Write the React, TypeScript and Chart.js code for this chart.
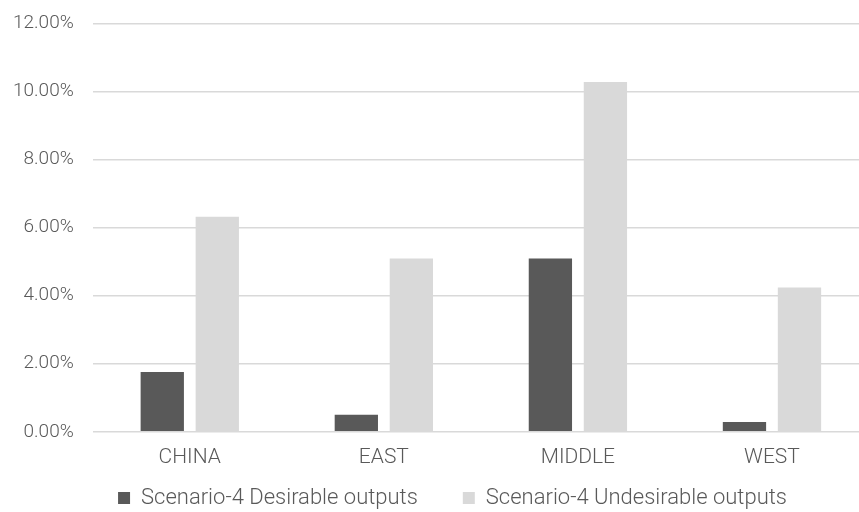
import React, { useEffect, useRef } from "react";
import { Chart, registerables } from "chart.js";

Chart.register(...registerables);

const categories = ["CHINA", "EAST", "MIDDLE", "WEST"];
const desirable = [1.76, 0.5, 5.09, 0.29];
const undesirable = [6.32, 5.09, 10.28, 4.24];
const seriesNames = ["Scenario-4 Desirable outputs", "Scenario-4 Undesirable outputs"];
const yTicks = [0, 2, 4, 6, 8, 10, 12];

const legendPad = 45;
const legendShift = { x: 21, y: -(legendPad - 12) };

const legendOffset = {
  id: "legendOffset",
  afterLayout(chart: any) {
    const lg = chart.legend;
    if (!lg) return;
    lg.left += legendShift.x;
    lg.right += legendShift.x;
    lg.top += legendShift.y;
    lg.bottom += legendShift.y;
  },
};

export default function App() {
  const ref = useRef<HTMLCanvasElement>(null);
  useEffect(() => {
    if (!ref.current) return;
    const font = "Roboto, sans-serif";
    const chart = new Chart(ref.current, {
      type: "bar",
      data: {
        labels: categories,
        datasets: [
          { label: seriesNames[0], data: desirable, backgroundColor: "#595959", categoryPercentage: 0.567, barPercentage: 0.787 },
          { label: seriesNames[1], data: undesirable, backgroundColor: "#d9d9d9", categoryPercentage: 0.567, barPercentage: 0.787 },
        ],
      },
      plugins: [legendOffset],
      options: {
        animation: false,
        responsive: false,
        maintainAspectRatio: false,
        layout: { padding: { left: 12, right: 0, top: 3, bottom: 0 } },
        plugins: {
          tooltip: { enabled: false },
          legend: {
            position: "bottom",
            labels: {
              color: "#595959",
              font: { family: font, size: 22, weight: "300" },
              boxWidth: 12,
              boxHeight: 12,
              padding: legendPad,
            },
          },
        },
        scales: {
          x: {
            grid: { display: false },
            border: { display: false },
            ticks: { color: "#595959", font: { family: font, size: 21, weight: "300" }, padding: 5 },
          },
          y: {
            min: 0,
            max: 12,
            afterBuildTicks: (axis: any) => {
              axis.ticks = yTicks.map((v) => ({ value: v }));
            },
            grid: { color: "#d9d9d9", lineWidth: 1.5, drawTicks: false },
            border: { display: false },
            ticks: {
              color: "#595959",
              font: { family: font, size: 19, weight: "300" },
              padding: 19,
              callback: (v: any) => Number(v).toFixed(2) + "%",
            },
          },
        },
      },
    });
    return () => chart.destroy();
  }, []);
  return (
    <div style={{ position: "fixed", left: 0, top: 0, width: 859, height: 512, overflow: "hidden", background: "#fff" }}>
      <canvas ref={ref} width={887} height={559} style={{ width: 887, height: 559, marginLeft: -18, marginTop: -7, display: "block" }} />
    </div>
  );
}
